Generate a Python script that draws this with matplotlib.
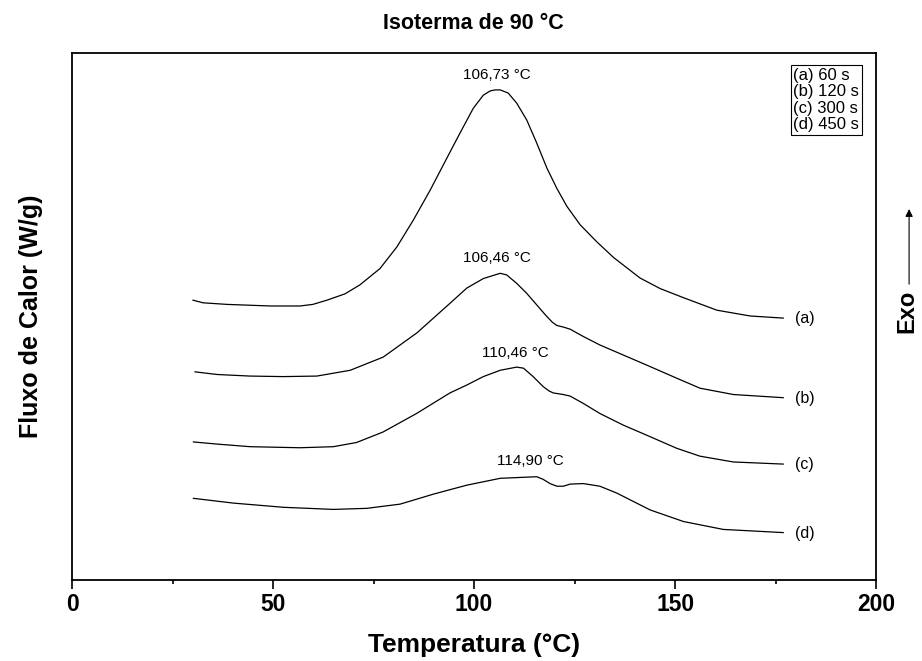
import matplotlib
matplotlib.use("Agg")
import matplotlib.pyplot as plt

plt.rcParams['font.family'] = ['Liberation Sans', 'DejaVu Sans']

# Data (temperature in °C, heat flow in arbitrary offset units)
temp_a = [30.1, 32.6, 38.6, 49.3, 56.7, 59.9, 63.4, 67.9, 71.6, 76.6, 80.8, 84.9, 89.1, 93.2,
          96.5, 99.8, 102.3, 104.0, 105.2, 106.5, 108.5, 110.6, 113.1, 115.6, 118.1, 120.6,
          123.1, 126.4, 130.5, 134.7, 141.3, 146.3, 152.0, 160.4, 168.7, 176.9]
flux_a = [53.1, 52.6, 52.3, 52.0, 52.0, 52.3, 53.1, 54.3, 56.0, 59.1, 63.2, 68.3, 74.0, 80.0,
          84.8, 89.5, 92.0, 92.8, 93.0, 93.0, 92.4, 90.5, 87.3, 82.9, 78.2, 74.3,
          70.9, 67.4, 64.2, 61.2, 57.3, 55.3, 53.6, 51.2, 50.1, 49.7]

temp_b = [30.6, 36.1, 44.3, 52.5, 60.9, 69.2, 77.4, 85.8, 94.0, 98.2, 102.3, 106.5, 108.1,
          110.6, 113.1, 115.6, 118.1, 119.5, 120.6, 122.2, 123.9, 127.2, 131.3, 137.1, 143.8,
          150.4, 156.2, 164.5, 176.9]
flux_b = [39.5, 39.0, 38.7, 38.6, 38.7, 39.8, 42.3, 46.9, 52.5, 55.4, 57.2, 58.2, 57.9,
          56.3, 54.4, 52.2, 50.0, 48.9, 48.3, 48.0, 47.6, 46.2, 44.6, 42.7, 40.5,
          38.3, 36.4, 35.2, 34.6]

temp_c = [30.2, 36.0, 44.3, 56.7, 65.0, 70.8, 77.4, 85.7, 94.0, 98.2, 102.3, 106.5, 110.6,
          112.3, 114.7, 117.2, 118.6, 119.7, 122.2, 123.9, 127.2, 131.3, 137.1, 143.8, 150.4,
          156.2, 164.5, 176.9]
flux_c = [26.2, 25.8, 25.3, 25.1, 25.3, 26.1, 28.1, 31.6, 35.5, 37.0, 38.6, 39.8, 40.4,
          40.2, 38.6, 36.7, 35.9, 35.5, 35.2, 34.9, 33.5, 31.6, 29.4, 27.2, 25.0,
          23.5, 22.4, 22.0]

temp_d = [30.2, 40.1, 52.6, 65.0, 73.3, 81.6, 89.9, 98.2, 106.5, 115.6, 117.2, 118.9, 120.6,
          122.2, 123.9, 127.2, 131.3, 135.5, 143.8, 152.1, 162.0, 176.9]
flux_d = [15.5, 14.6, 13.8, 13.4, 13.6, 14.4, 16.3, 18.0, 19.3, 19.6, 19.1, 18.3, 17.8,
          17.8, 18.2, 18.3, 17.8, 16.5, 13.3, 11.1, 9.6, 9.0]

curve_labels = ['(a)', '(b)', '(c)', '(d)']
legend_lines = ['(a) 60 s', '(b) 120 s', '(c) 300 s', '(d) 450 s']
peak_labels = ['106,73 °C', '106,46 °C', '110,46 °C', '114,90 °C']
peak_temps = [105.7, 105.7, 110.3, 113.9]
peak_flux = [95.8, 61.1, 43.0, 22.6]
end_flux = [49.7, 34.5, 22.0, 8.9]

fig = plt.figure(figsize=(9.22, 6.61), dpi=100)
ax = fig.add_axes([0.0781, 0.1225, 0.8721, 0.7973])

curves = [(temp_a, flux_a), (temp_b, flux_b), (temp_c, flux_c), (temp_d, flux_d)]
for (t, f) in curves:
    ax.plot(t, f, color='black', linewidth=0.9)

# curve labels at the right end
for lab, yv in zip(curve_labels, end_flux):
    ax.text(179.8, yv, lab, fontsize=11.5, ha='left', va='center')

# peak annotations
for lab, xv, yv in zip(peak_labels, peak_temps, peak_flux):
    ax.text(xv, yv, lab, fontsize=11, ha='center', va='center')

# legend box
ax.text(0.897, 0.972, '\n'.join(legend_lines), transform=ax.transAxes, fontsize=12,
        ha='left', va='top', linespacing=1.12,
        bbox=dict(boxstyle='square,pad=0.15', facecolor='white', edgecolor='black', linewidth=0.8))

ax.set_xlim(0, 200)
ax.set_ylim(0, 100)
ax.set_xticks([0, 50, 100, 150, 200])
ax.set_xticks([25, 75, 125, 175], minor=True)
ax.set_yticks([])
ax.tick_params(axis='x', which='major', direction='out', length=6.5, width=1.2, labelsize=16.5, pad=3)
ax.tick_params(axis='x', which='minor', direction='out', length=3, width=1.2)
for lbl in ax.get_xticklabels():
    lbl.set_fontweight('bold')
for sp in ax.spines.values():
    sp.set_linewidth(1.3)

ax.set_xlabel('Temperatura (°C)', fontsize=19, fontweight='bold', labelpad=12)
ax.set_ylabel('Fluxo de Calor (W/g)', fontsize=18, fontweight='bold')
ax.yaxis.set_label_coords(-0.036, 0.5)
fig.text(0.513, 0.964, 'Isoterma de 90 °C', fontsize=15.5, fontweight='bold', ha='center', va='center')

# Exo arrow on the right
fig.text(0.984, 0.529, 'Exo', rotation=90, fontsize=17, fontweight='bold', ha='center', va='center')
fig.add_artist(matplotlib.patches.FancyArrowPatch((0.986, 0.566), (0.986, 0.688),
               transform=fig.transFigure, arrowstyle='-|>', mutation_scale=11,
               color='black', linewidth=0.8))

fig.savefig('out.png', dpi=100)
